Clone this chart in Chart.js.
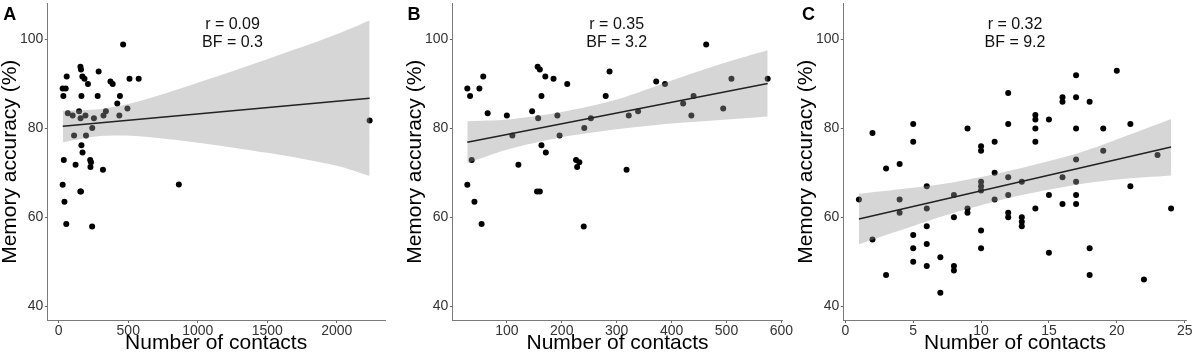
<!DOCTYPE html>
<html><head><meta charset="utf-8">
<script src="https://cdn.jsdelivr.net/npm/chart.js@4.4.1/dist/chart.umd.min.js"></script>
<style>
html,body{margin:0;padding:0;background:#fff;}
#wrap{position:relative;width:1195px;height:354px;overflow:hidden;background:#fff;}
canvas{position:absolute;left:0;top:0;}
</style></head><body>
<div id="wrap">
<canvas id="cA" width="1195" height="354"></canvas>
<canvas id="cB" width="1195" height="354"></canvas>
<canvas id="cC" width="1195" height="354"></canvas>
</div>
<script>
// ---------- data ----------
const yTicks = [40, 60, 80, 100];
const xTicksA = [0, 500, 1000, 1500, 2000];
const xTicksB = [100, 200, 300, 400, 500, 600];
const xTicksC = [0, 5, 10, 15, 20, 25];

const contactsA = [28,33,50,57,65,36,28,41,54,100,110,121,146,156,160,157,170,163,163,171,155,160,185,192,196,210,226,232,228,240,241,253,280,287,322,339,318,372,388,421,440,436,463,494,509,575,864,2237];
const accuracyA = [89.0,87.3,89.0,91.7,83.4,72.9,67.3,63.5,58.5,82.9,78.4,71.8,83.9,93.9,93.3,82.3,91.7,87.3,76.2,74.6,65.8,65.8,91.2,82.9,78.4,90.0,72.9,72.4,71.3,57.9,80.1,82.3,87.3,92.8,82.9,83.9,70.7,90.6,90.0,85.6,87.3,82.9,98.9,84.5,91.2,91.2,67.4,81.8];
const fitXA = [29, 2237];
const fitYA = [80.5, 86.8];
const bandXA = [29, 300, 550, 1000, 1500, 2000, 2237];
const bandUpA = [84.0, 84.4, 85.9, 90.3, 95.6, 101.2, 104.3];
const bandLoA = [76.9, 78.3, 78.3, 76.8, 74.5, 71.6, 69.3];

const contactsB = [28,33,50,57,65,36,28,41,54,100,110,121,146,156,160,157,170,163,163,171,155,160,185,192,196,210,226,232,228,240,241,253,280,287,322,339,318,372,388,421,440,436,463,494,509,575];
const accuracyB = [89.0,87.3,89.0,91.7,83.4,72.9,67.3,63.5,58.5,82.9,78.4,71.8,83.9,93.9,93.3,82.3,91.7,87.3,76.2,74.6,65.8,65.8,91.2,82.9,78.4,90.0,72.9,72.4,71.3,57.9,80.1,82.3,87.3,92.8,82.9,83.9,70.7,90.6,90.0,85.6,87.3,82.9,98.9,84.5,91.2,91.2];
const fitXB = [28, 575];
const fitYB = [76.9, 90.1];
const bandXB = [28, 100, 200, 300, 400, 500, 575];
const bandUpB = [81.6, 82.0, 83.7, 86.5, 90.8, 94.9, 97.6];
const bandLoB = [72.2, 75.2, 78.0, 79.8, 81.1, 82.0, 82.7];

const contactsC = [1,2,2,3,3,4,4,4,5,5,5,5,5,6,6,6,6,6,7,7,8,8,8,8,9,9,9,10,10,10,10,10,10,10,11,11,11,12,12,12,12,12,12,13,13,13,13,14,14,14,14,14,15,15,15,16,16,16,16,17,17,17,17,17,17,17,18,18,18,19,19,20,21,21,22,23,24];
const accuracyC = [64,79,55,71,47,72,64,61,81,77,56,53,50,67,62,58,54,49,51,43,65,60,49,48,80,62,61,76,75,68,67,66,57,53,77,70,64,88,81,69,65,61,60,68,60,59,58,83,82,80,77,62,82,65,52,87,86,69,63,92,87,80,73,68,65,63,86,53,47,80,75,93,81,67,46,74,62];
const fitXC = [1, 24];
const fitYC = [59.6, 75.8];
const bandXC = [1, 4, 8, 12, 17, 20, 24];
const bandUpC = [65.3, 66.3, 67.9, 70.4, 74.3, 77.5, 82.1];
const bandLoC = [53.9, 57.0, 61.0, 64.3, 67.3, 68.5, 69.4];

const panelLabels = ['A', 'B', 'C'];
const rTexts = ['r = 0.09', 'r = 0.35', 'r = 0.32'];
const bfTexts = ['BF = 0.3', 'BF = 3.2', 'BF = 9.2'];
const annotX = [1250, 300, 12.5];
const annotY = [102.5, 98.4];

// ---------- drawing ----------
const FONT = '"Liberation Sans", Arial, Helvetica, sans-serif';
const zip = (xs, ys) => xs.map((x, i) => ({x: x, y: ys[i]}));

const textPlugin = {
  id: 'panelText',
  afterDraw(chart, args, o) {
    const ctx = chart.ctx;
    const xs = chart.scales.x, ys = chart.scales.y;
    ctx.save();
    ctx.fillStyle = '#000';
    ctx.font = 'bold 18px ' + FONT;
    ctx.textAlign = 'left';
    ctx.textBaseline = 'alphabetic';
    ctx.fillText(o.label, o.labelX, 20);
    ctx.font = '16px ' + FONT;
    ctx.textAlign = 'center';
    ctx.fillStyle = '#111';
    const cx = xs.getPixelForValue(o.annotX);
    ctx.fillText(o.r, cx, ys.getPixelForValue(annotY[0]));
    ctx.fillText(o.bf, cx, ys.getPixelForValue(annotY[1]));
    ctx.restore();
  }
};

function makeChart(id, p) {
  new Chart(document.getElementById(id), {
    type: 'scatter',
    plugins: [textPlugin],
    data: { datasets: [
      {type: 'line', data: zip(p.fitX, p.fitY), borderColor: '#222', borderWidth: 1.5, pointRadius: 0, fill: false},
      {type: 'line', data: zip(p.bandX, p.bandUp), borderColor: 'rgba(0,0,0,0)', borderWidth: 0, pointRadius: 0, fill: '+1', backgroundColor: 'rgba(153,153,153,0.4)', tension: 0.3},
      {type: 'line', data: zip(p.bandX, p.bandLo), borderColor: 'rgba(0,0,0,0)', borderWidth: 0, pointRadius: 0, fill: false, tension: 0.3},
      {type: 'scatter', data: zip(p.xs, p.ys), pointRadius: 3.0, backgroundColor: '#000', borderColor: '#000', borderWidth: 0, pointHoverRadius: 3.0}
    ]},
    options: {
      responsive: false, animation: false, devicePixelRatio: 1,
      events: [],
      layout: {padding: {left: p.padL, right: p.padR, top: 1, bottom: 0}},
      plugins: {
        legend: {display: false}, tooltip: {enabled: false},
        panelText: {label: p.label, labelX: p.labelX, r: p.r, bf: p.bf, annotX: p.annotX}
      },
      scales: {
        x: {
          type: 'linear', min: p.xmin, max: p.xmax,
          afterBuildTicks: s => { s.ticks = p.xTicks.map(v => ({value: v})); },
          afterFit: s => { s.height = 33.5; s.paddingLeft = 0; s.paddingRight = 0; },
          grid: {display: true, drawOnChartArea: false, drawTicks: true, tickLength: 2.5, color: '#666', lineWidth: 1},
          border: {display: true, color: '#7a7a7a', width: 1},
          ticks: {color: '#333', font: {family: FONT, size: 14}, padding: 0, maxRotation: 0, autoSkip: false, callback: v => String(v)},
          title: {display: true, text: 'Number of contacts', color: '#000', font: {family: FONT, size: 21, lineHeight: 1}, padding: {top: 0, bottom: 0}}
        },
        y: {
          type: 'linear', min: 36.75, max: 108.25,
          afterBuildTicks: s => { s.ticks = yTicks.map(v => ({value: v})); },
          afterFit: s => { s.width = p.yW; s.paddingTop = 0; s.paddingBottom = 0; },
          grid: {display: true, drawOnChartArea: false, drawTicks: true, tickLength: 2.5, color: '#666', lineWidth: 1},
          border: {display: true, color: '#7a7a7a', width: 1},
          ticks: {color: '#333', font: {family: FONT, size: 14}, padding: 1.5, callback: v => String(v)},
          title: {display: true, text: 'Memory accuracy (%)', color: '#000', font: {family: FONT, size: 21, lineHeight: 1}, padding: {top: 0, bottom: 0}}
        }
      }
    }
  });
}

makeChart('cA', {xs: contactsA, ys: accuracyA, fitX: fitXA, fitY: fitYA, bandX: bandXA, bandUp: bandUpA, bandLo: bandLoA,
  xTicks: xTicksA, xmin: -82.5, xmax: 2347.5, padL: 0, padR: 810, yW: 47.3,
  label: panelLabels[0], labelX: 3.3, r: rTexts[0], bf: bfTexts[0], annotX: annotX[0]});
makeChart('cB', {xs: contactsB, ys: accuracyB, fitX: fitXB, fitY: fitYB, bandX: bandXB, bandUp: bandUpB, bandLo: bandLoB,
  xTicks: xTicksB, xmin: 0.65, xmax: 602.35, padL: 405, padR: 412.3, yW: 47.3,
  label: panelLabels[1], labelX: 407.5, r: rTexts[1], bf: bfTexts[1], annotX: annotX[1]});
makeChart('cC', {xs: contactsC, ys: accuracyC, fitX: fitXC, fitY: fitYC, bandX: bandXC, bandUp: bandUpC, bandLo: bandLoC,
  xTicks: xTicksC, xmin: -0.15, xmax: 25.15, padL: 796, padR: 8.3, yW: 47.3,
  label: panelLabels[2], labelX: 802, r: rTexts[2], bf: bfTexts[2], annotX: annotX[2]});
</script>
</body></html>
